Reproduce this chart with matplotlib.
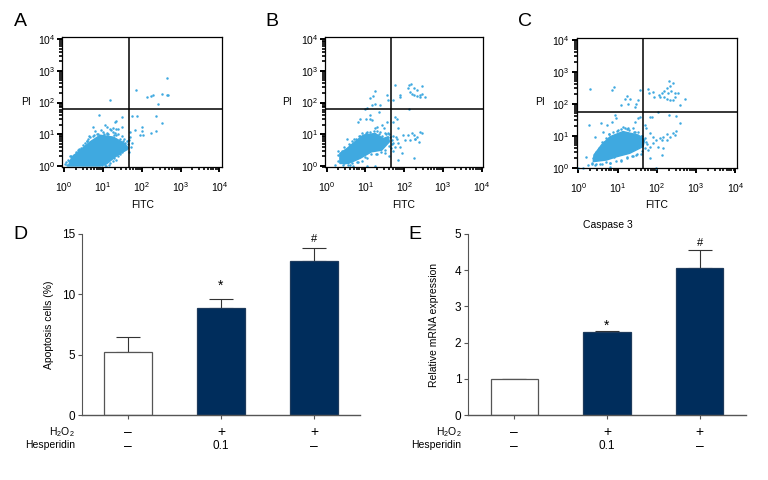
from matplotlib import pyplot as plt
from matplotlib.ticker import LogLocator, NullFormatter

plt.rc("font", family=["Liberation Sans", "DejaVu Sans"], size=8)
plt.rc("mathtext", fontset="custom", rm="Liberation Sans", default="regular")

W, H = 768, 480
DOT = "#3fa9e0"
NAVY = "#002d5c"
GRAY = "#555555"

# flow cytometry panels, values are log10 of the FITC / PI signal
a_core_x = [.11, .20, .41, .67, .93, 1.27, 1.57, 1.65, 1.31, 1.10, .93]
a_core_y = [0, .28, .49, .76, .97, .91, .70, .55, .28, .07, 0]
a_x = [2.66, 1.84, 1.18, 2.13, 2.23, 2.28, 2.51, 2.66, 2.68, 2.41, .91, 1.48,
       1.35, 1.31, 1.10, .75, .65, 1.74, 1.87, 2.36, 2.53, 2.36, 2.23, 2.00,
       2.00, 2.04, 1.95, 1.83, 1.70, 1.70, 1.68, 1.48, 1.35, 1.26, 1.10,
       .25, .35, .45, .55, .62, .75, .85, 1.00, 1.10, 1.20, 1.30, 1.40, 1.50,
       1.55, 1.62, 1.65, 1.60, 1.50, 1.42, 1.35, 1.25, 1.15, 1.05, .03, .06,
       .10, .15, 1.05, 1.40, 1.25, .80, .58, 1.75, 1.72, 1.68,
       .08, .13, .18, .22, .30, .38, .48, .58, .68, .78, .88, .95, 1.02, 1.12,
       1.18, 1.28, 1.35, 1.45, 1.52, 1.58, 1.62, 1.55, 1.45, 1.38, 1.28, 1.18,
       1.08, .98]
a_y = [2.77, 2.38, 2.07, 2.16, 2.22, 2.23, 2.27, 2.25, 2.23, 1.95, 1.60, 1.54,
       1.42, 1.39, 1.23, 1.23, .93, 1.56, 1.59, 1.59, 1.37, 1.10, 1.05, 1.23,
       1.10, .99, .97, 1.14, 1.07, .92, .81, 1.23, 1.18, 1.07, 1.02,
       .35, .50, .58, .72, .85, .93, 1.02, 1.08, 1.05, 1.12, 1.05, 1.02, .95,
       .85, .80, .68, .55, .45, .42, .20, .15, .02, .04, .05, .12,
       .20, .30, 1.28, 1.18, 1.20, 1.10, .80, .72, .60, .45,
       .04, .16, .32, .24, .44, .55, .65, .80, .90, .98, 1.00, 1.12, 1.00, 1.00,
       1.18, .98, .98, .85, .78, .72, .60, .50, .38, .32, .25, .10,
       0, .02]

b_core_x = [.34, .34, .53, .73, .95, 1.25, 1.46, 1.59, 1.62, 1.42, 1.16, .86, .56]
b_core_y = [.07, .39, .55, .76, .97, 1.02, .86, .92, .76, .49, .44, .23, .07]
b_x = [2.13, 2.17, 2.11, 2.24, 2.33, 2.16, 2.20, 2.26, 2.33, 2.40, 2.46, 2.54,
       2.41, 2.47, 1.90, 1.88, 1.77, 1.72, 2.13, 1.55, 1.58, 1.25, 1.19, 1.12,
       1.25, 1.38, 1.16, .99, 1.03, 1.34, 1.12, 1.02, .86, .82, 1.12, 1.16,
       1.29, 1.25, 1.42, 1.38, 1.47, 1.55, 1.75, 1.81, 1.72, 1.85, 1.98, 2.11,
       2.24, 2.33, 2.41, 2.46, 2.28, 2.16, 2.37, 2.03, 1.90, 2.24, 1.94, 1.85,
       1.72, 1.68, 1.81, .52, .30, .22, .69, 1.03, 1.25,
       .28, .30, .45, .60, .70, .85, 1.05, 1.30, 1.50, 1.62, 1.70, 1.75, 1.65,
       1.50, 1.30, 1.05, .80, .60, .42, 1.72, 1.78, 1.85, 1.60, 2.20, 2.28,
       .36, .40, .50, .58, .66, .76, .84, .92, 1.02, 1.12, 1.22, 1.34, 1.44,
       1.52, 1.58, 1.64, 1.68, 1.60, 1.50, 1.40, 1.28, 1.15, 1.00, .90, .78,
       .66, .55, .45]
b_y = [2.55, 2.58, 2.47, 2.47, 2.39, 2.34, 2.28, 2.23, 2.20, 2.25, 2.28, 2.18,
       2.16, 2.52, 2.23, 2.18, 2.55, 2.07, 1.81, 2.23, 2.07, 2.37, 2.20, 2.13,
       1.94, 1.92, 1.92, 1.81, 1.84, 1.71, 1.60, 1.49, 1.49, 1.39, 1.49, 1.44,
       1.23, 1.18, 1.28, 1.07, 1.18, 1.39, 1.55, 1.49, 1.39, 1.18, .97, .97,
       .97, .92, 1.07, 1.02, .86, .81, .76, .81, .60, .23, .39, .18,
       .71, .81, .86, .86, .34, .02, 0, 0, 0,
       .15, .45, .60, .65, .85, .95, 1.08, 1.10, 1.05, 1.00, .95, .60, .55,
       .40, .38, .25, .12, .03, .02, .45, .90, .72, .30, 1.05, .85,
       .25, .45, .50, .68, .78, .86, .95, 1.05, 1.02, 1.08, 1.10, 1.00, .95,
       1.00, 1.02, .90, .70, .62, .50, .42, .38, .36, .28, .15, .12,
       .08, .03, .10]

c_core_x = [.38, .40, .59, .81, 1.14, 1.53, 1.69, 1.65, 1.31, .97, .72]
c_core_y = [.19, .40, .71, .97, 1.13, 1.02, .86, .66, .45, .34, .24]
c_x = [2.31, 2.42, 2.33, 2.25, 2.18, 2.12, 2.05, 2.08, 2.18, 2.25, 2.33, 2.42,
       2.47, 2.54, 2.46, 2.37, 2.29, 2.58, 2.71, 1.78, 1.80, 1.91, 1.92, 1.57,
       .92, .85, .30, 1.23, 1.19, 1.31, 1.10, 1.27, 1.53, 1.44, 1.48,
       .93, .97, 1.57, 1.53, 1.44, 1.82, 1.89, 2.03, 2.31, 2.50, 2.58, .27,
       .57, .72, .87, .42, .62, 1.69, 1.72, 1.14, 1.27, 1.40,
       1.82, 1.91, 1.99, 2.08, 2.16, 2.25, 2.33, 2.42, 2.48, 2.46, 2.26, 2.14,
       1.91, 2.03, 1.82, 2.16, 2.12, 1.82, 1.99, 0, .13, .19, .25, .81, .91,
       1.23, 1.48, .35, .48, .65, .78, 1.00, 1.25, 1.45, 1.60, 1.72, 1.78,
       1.60, 1.40, 1.10, .80, .60, .45,
       .34, .38, .44, .52, .60, .70, .78, .88, .98, 1.08, 1.18, 1.30, 1.42,
       1.52, 1.62, 1.70, 1.75, 1.70, 1.62, 1.50, 1.38, 1.25, 1.10, .95, .82,
       .70, .55, .42]
c_y = [2.72, 2.64, 2.55, 2.48, 2.41, 2.32, 2.27, 2.20, 2.20, 2.14, 2.11, 2.11,
       2.20, 2.32, 2.34, 2.41, 2.32, 1.96, 2.14, 2.45, 2.32, 2.38, 2.22, 2.43,
       2.51, 2.43, 2.45, 2.24, 2.14, 2.14, 1.96, 1.99, 2.11, 1.89, 1.99,
       1.65, 1.54, 1.59, 1.54, 1.44, 1.59, 1.59, 1.75, 1.65, 1.61, 1.39, 1.32,
       1.39, 1.33, 1.44, .97, 1.13, 1.33, 1.23, 1.28, 1.23, 1.23,
       1.07, .97, .86, .92, .97, .86, .97, 1.07, 1.16, 1.02, 1.05, .86,
       .76, .66, .66, .60, .40, .29, 0, 0, 0, .32, .08, .03, .34,
       .29, .40, .15, .48, .80, 1.05, 1.17, 1.20, 1.10, .98, .80, .55,
       .42, .35, .22, .15, .12, .10,
       .12, .30, .50, .62, .80, .92, 1.05, 1.12, 1.15, 1.22, 1.25, 1.18, 1.12,
       1.10, .98, .92, .75, .60, .52, .42, .36, .34, .25, .22, .14,
       .18, .12, .08]

gate_a = [1.67, 1.79]
gate_b = [1.66, 1.78]
gate_c = [1.65, 1.74]

# bar panels
groups = [0, 1, 2]
h2o2_row = ["\u2013", "+", "+"]
hesp_row = ["\u2013", "0.1", "\u2013"]
apoptosis = [5.2, 8.85, 12.75]
apoptosis_err = [1.25, 0.8, 1.1]
apoptosis_marks = [None, (10.7, "*"), (14.6, "#")]
caspase = [1.0, 2.3, 4.05]
caspase_err = [0, 0.03, 0.51]
caspase_marks = [None, (2.47, "*"), (4.75, "#")]


def px_axes(fig, left, top, right, bottom):
    return fig.add_axes([left / W, 1 - bottom / H,
                         (right - left) / W, (bottom - top) / H])


def label(fig, x, y, s, **kw):
    fig.text(x / W, 1 - y / H, s, ha="center", va="center", **kw)


def plot_flow(fig, box, origin, end, core_x, core_y, xs, ys, gate, xy_labels):
    ax = px_axes(fig, *box)
    left, top, right, bottom = box
    x0, y0 = origin
    x1, y1 = end
    xdec = (x1 - x0) / 4
    ydec = (y0 - y1) / 4
    ax.set_xscale("log")
    ax.set_yscale("log")
    ax.set_xlim(10 ** ((left - x0) / xdec), 10 ** ((right - x0) / xdec))
    ax.set_ylim(10 ** ((y0 - bottom) / ydec), 10 ** ((y0 - top) / ydec))
    # the dense centre of the cloud is one solid area in the picture
    ax.fill([10 ** v for v in core_x], [10 ** v for v in core_y],
            color=DOT, lw=1.0, zorder=2)
    ax.scatter([10 ** v for v in xs], [10 ** v for v in ys], s=3.2, c=DOT,
               lw=0, clip_on=False, zorder=2)
    ax.axvline(10 ** gate[0], color="k", lw=1.1, zorder=3)
    ax.axhline(10 ** gate[1], color="k", lw=1.1, zorder=3)
    for s in ax.spines.values():
        s.set_linewidth(0.9)
    for axis in (ax.xaxis, ax.yaxis):
        axis.set_major_locator(LogLocator(base=10, numticks=6))
        axis.set_minor_locator(LogLocator(base=10, subs=range(2, 10), numticks=6))
        axis.set_minor_formatter(NullFormatter())
    ax.set_xticks([1, 10, 100, 1000, 10000])
    ax.set_yticks([1, 10, 100, 1000, 10000])
    ax.tick_params(which="major", length=3.5, width=1.4, labelsize=7.5)
    ax.tick_params(which="minor", length=2.5, width=1.2)
    ax.tick_params(axis="x", which="major", pad=6)
    ax.tick_params(axis="y", which="major", pad=1.5)
    label(fig, *xy_labels[0], "FITC", fontsize=7.5)
    label(fig, *xy_labels[1], "PI", fontsize=7.5)


def plot_bars(fig, box, values, err, marks, ymax, step, ylabel, ylabel_x,
              row_x):
    ax = px_axes(fig, *box)
    colors = ["white", NAVY, NAVY]
    edges = [GRAY, "#1d3a5c", "#1d3a5c"]
    ax.bar(groups, values, width=0.51, color=colors, edgecolor=edges, lw=0.9,
           zorder=2)
    ax.errorbar(groups, values, yerr=[[0, 0, 0], err], fmt="none", ecolor="#333333",
                elinewidth=0.8, capsize=8.3, capthick=0.8, zorder=1)
    ax.set_xlim(-0.495, 2.495)
    ax.set_ylim(0, ymax)
    ax.set_yticks(range(0, ymax + 1, step))
    ax.set_xticks(groups)
    ax.set_xticklabels([])
    ax.tick_params(length=3, width=0.8, color=GRAY, labelsize=8.5, pad=2)
    ax.spines["top"].set_visible(False)
    ax.spines["right"].set_visible(False)
    ax.spines["left"].set_color(GRAY)
    ax.spines["bottom"].set_color(GRAY)
    ax.spines["bottom"].set_linewidth(1.0)
    for g, a, b, m in zip(groups, h2o2_row, hesp_row, marks):
        ax.annotate(a, (g, 0), xytext=(0, -12.5), textcoords="offset points",
                    ha="center", va="center", fontsize=10)
        ax.annotate(b, (g, 0), xytext=(0, -22), textcoords="offset points",
                    ha="center", va="center", fontsize=8.5 if b == "0.1" else 10)
        if m:
            ax.text(g, m[0], m[1], ha="center", va="center", fontsize=10 if m[1] == "*" else 8)
    fig.text(row_x / W, 1 - 432 / H, r"H$_2$O$_2$", ha="right", va="center",
             fontsize=7.5)
    fig.text(row_x / W, 1 - 445.5 / H, "Hesperidin", ha="right", va="center",
             fontsize=7.5)
    label(fig, ylabel_x, 325, ylabel, rotation=90, fontsize=7.5)


fig = plt.figure(figsize=(W / 100, H / 100), dpi=100)

plot_flow(fig, (62.3, 37.3, 221.7, 166.7), (64, 166), (219.5, 39),
          a_core_x, a_core_y, a_x, a_y, gate_a, ((143, 205), (26, 102)))
plot_flow(fig, (325, 37.3, 483.3, 167.3), (326.7, 165.7), (481.7, 39.3),
          b_core_x, b_core_y, b_x, b_y, gate_b, ((404, 205), (287, 102)))
plot_flow(fig, (576.7, 37.7, 736.7, 168.3), (578.3, 167.7), (735.3, 39.7),
          c_core_x, c_core_y, c_x, c_y, gate_c, ((657, 205), (540, 102)))

plot_bars(fig, (82, 234, 360, 415), apoptosis, apoptosis_err, apoptosis_marks,
          15, 5, "Apoptosis cells (%)", 49, 75)
plot_bars(fig, (468.3, 234, 745.7, 415), caspase, caspase_err, caspase_marks,
          5, 1, "Relative mRNA expression", 434, 461.5)
label(fig, 608, 225.5, "Caspase 3", fontsize=7.5)

for x, y, s in [(20, 22, "A"), (272, 21, "B"), (525, 21, "C"),
                (20, 234, "D"), (415, 234, "E")]:
    label(fig, x, y, s, fontsize=14)

plt.savefig("out.png", dpi=100)
